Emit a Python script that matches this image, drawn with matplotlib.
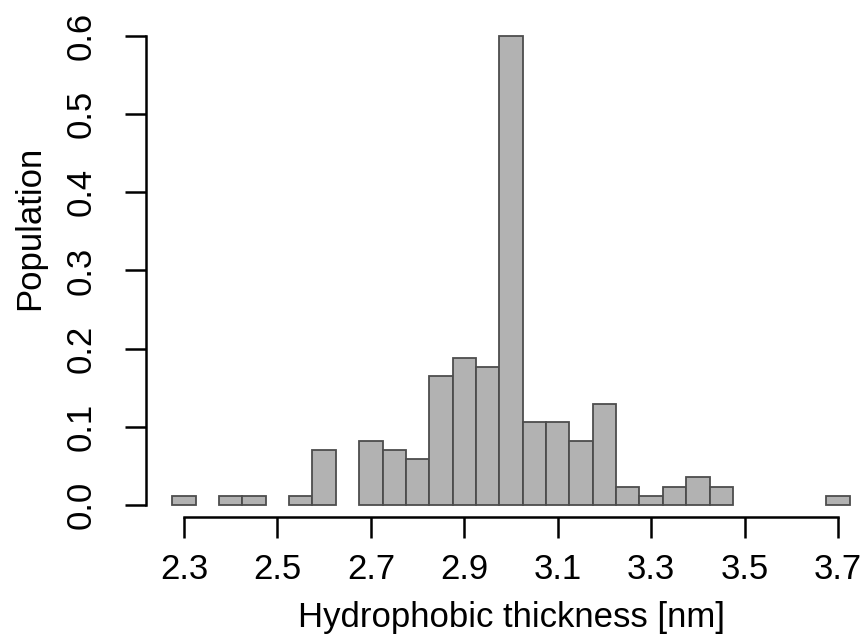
import numpy as np
import matplotlib
matplotlib.use("Agg")
import matplotlib.pyplot as plt

# Bin centres (nm) and population fractions
centers = [2.30, 2.35, 2.40, 2.45, 2.50, 2.55, 2.60, 2.65, 2.70, 2.75, 2.80, 2.85,
           2.90, 2.95, 3.00, 3.05, 3.10, 3.15, 3.20, 3.25, 3.30, 3.35, 3.40, 3.45,
           3.50, 3.55, 3.60, 3.65, 3.70]
counts = [1, 0, 1, 1, 0, 1, 6, 0, 7, 6, 5, 14,
          16, 15, 51, 9, 9, 7, 11, 2, 1, 2, 3, 2,
          0, 0, 0, 0, 1]
total = 85
population = [c / total for c in counts]
xticks = [2.3, 2.5, 2.7, 2.9, 3.1, 3.3, 3.5, 3.7]
yticks = [0.0, 0.1, 0.2, 0.3, 0.4, 0.5, 0.6]

W, H = 865, 636
fig = plt.figure(figsize=(W / 100, H / 100), dpi=100)
plt.rcParams['font.family'] = ['Liberation Sans', 'DejaVu Sans']

left_px, right_px, top_px, bot_px = 146, 877, 17, 517
ax = fig.add_axes([left_px / W, 1 - bot_px / H, (right_px - left_px) / W, (bot_px - top_px) / H])
ax.set_xlim(2.2186, 3.7835)
ax.set_ylim(-0.01535, 0.6243)

nz = [(c, p) for c, p in zip(centers, population) if p > 0]
ax.bar([c for c, _ in nz], [p for _, p in nz], width=0.05, color='#b2b2b2',
       edgecolor='#4d4d4d', linewidth=1.3, align='center')

for s in ['top', 'right']:
    ax.spines[s].set_visible(False)
ax.spines['left'].set_bounds(0, 0.6)
ax.spines['bottom'].set_bounds(2.3, 3.7)
for s in ['left', 'bottom']:
    ax.spines[s].set_linewidth(1.8)
    ax.spines[s].set_color('black')

ax.set_xticks(xticks)
ax.set_xticklabels([f"{t:.1f}" for t in xticks])
ax.set_yticks(yticks)
ax.set_yticklabels([f"{t:.1f}" for t in yticks], rotation=90, va='center')
ax.tick_params(axis='both', length=15, width=1.8, labelsize=25, colors='black')
ax.tick_params(axis='x', pad=11)
ax.tick_params(axis='y', pad=20)

fig.text(511 / W, 1 - 617 / H, 'Hydrophobic thickness [nm]', ha='center', va='center', fontsize=25)
fig.text(30 / W, 1 - 228 / H, 'Population', ha='center', va='center', rotation=90, fontsize=25)

fig.savefig('out.png', dpi=100)
